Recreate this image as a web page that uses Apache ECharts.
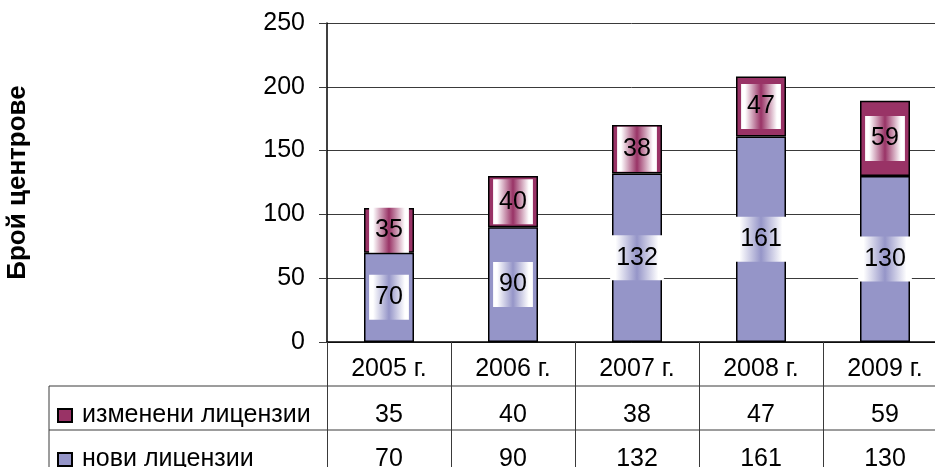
<!DOCTYPE html>
<html>
<head>
<meta charset="utf-8">
<script src="https://cdn.jsdelivr.net/npm/echarts@6/dist/echarts.min.js"></script>
<style>
  html, body { margin: 0; padding: 0; background: #fff; }
  #chart { width: 935px; height: 467px; }
</style>
</head>
<body>
<div id="chart"></div>
<script>
// data
const years = ['2005 г.', '2006 г.', '2007 г.', '2008 г.', '2009 г.']
const newLicences = [70, 90, 132, 161, 130]
const changedLicences = [35, 40, 38, 47, 59]
const seriesNames = ['изменени лицензии', 'нови лицензии']
const yTicks = { min: 0, max: 250, interval: 50 }

const font = '"Liberation Sans", Arial, sans-serif'
const fontSize = 25
const blue = '#9595c8'
const maroon = '#993366'
const lineColor = '#3a3a3a'

const labelBg = (color) => new echarts.graphic.LinearGradient(0, 0, 1, 0, [
  { offset: 0, color: '#ffffff' },
  { offset: 0.1, color: '#ffffff' },
  { offset: 0.5, color: color },
  { offset: 0.9, color: '#ffffff' },
  { offset: 1, color: '#ffffff' }
])

const barLabel = (color) => ({
  show: true,
  position: 'inside',
  color: '#000',
  fontFamily: font,
  fontSize: fontSize,
  padding: [10, 6],
  backgroundColor: labelBg(color)
})

const tableAxis = (values, margin) => ({
  type: 'category',
  data: years,
  position: 'bottom',
  axisLine: { show: false },
  axisTick: { show: false },
  axisLabel: {
    margin: margin,
    color: '#000',
    fontFamily: font,
    fontSize: fontSize,
    formatter: (v, i) => String(values[i])
  }
})

// one legend per table row so each marker sits in its own row
const rowLegend = (name, top) => ({
  data: [name],
  left: 57,
  top: top,
  padding: 0,
  itemWidth: 14,
  itemHeight: 13,
  icon: 'rect',
  textStyle: {
    color: '#000',
    fontFamily: font,
    fontSize: fontSize,
    padding: [0, 0, 0, 5]
  }
})

const chart = echarts.init(document.getElementById('chart'))

chart.setOption({
  animation: false,
  textStyle: { fontFamily: font },
  // plot runs past the right edge like the cropped original
  grid: { left: 327, top: 23, width: 620, height: 319, outerBoundsMode: 'none', containLabel: false },
  legend: [
    rowLegend(seriesNames[0], 403),
    rowLegend(seriesNames[1], 447)
  ],
  xAxis: [
    {
      type: 'category',
      data: years,
      axisLine: { lineStyle: { color: '#000', width: 1.5 } },
      axisTick: { show: true, length: 130, lineStyle: { color: lineColor, width: 1 } },
      axisLabel: { margin: 15, color: '#000', fontFamily: font, fontSize: fontSize }
    },
    tableAxis(changedLicences, 61),
    tableAxis(newLicences, 105)
  ],
  yAxis: {
    type: 'value',
    min: yTicks.min,
    max: yTicks.max,
    interval: yTicks.interval,
    name: 'Брой центрове',
    nameLocation: 'middle',
    nameRotate: 90,
    nameGap: 296,
    nameTextStyle: { color: '#000', fontFamily: font, fontSize: 26, fontWeight: 'bold' },
    axisLine: { show: true, lineStyle: { color: '#000', width: 1.5 } },
    axisTick: { show: true, length: 8, lineStyle: { color: lineColor } },
    axisLabel: { margin: 22, color: '#000', fontFamily: font, fontSize: fontSize },
    splitLine: { lineStyle: { color: lineColor, width: 1 } }
  },
  series: [
    {
      name: seriesNames[1],
      type: 'bar',
      stack: 'total',
      barWidth: 50,
      data: newLicences,
      itemStyle: { color: blue, borderColor: '#000', borderWidth: 1.5 },
      label: barLabel(blue)
    },
    {
      name: seriesNames[0],
      type: 'bar',
      stack: 'total',
      barWidth: 50,
      data: changedLicences,
      itemStyle: { color: maroon, borderColor: '#000', borderWidth: 1.5 },
      label: barLabel(maroon)
    }
  ],
  graphic: [
    // data table borders
    { type: 'line', shape: { x1: 49, y1: 386, x2: 935, y2: 386 }, style: { stroke: lineColor, lineWidth: 1 } },
    { type: 'line', shape: { x1: 49, y1: 430, x2: 935, y2: 430 }, style: { stroke: lineColor, lineWidth: 1 } },
    { type: 'line', shape: { x1: 49, y1: 386, x2: 49, y2: 467 }, style: { stroke: lineColor, lineWidth: 1 } }
  ]
})
</script>
</body>
</html>
